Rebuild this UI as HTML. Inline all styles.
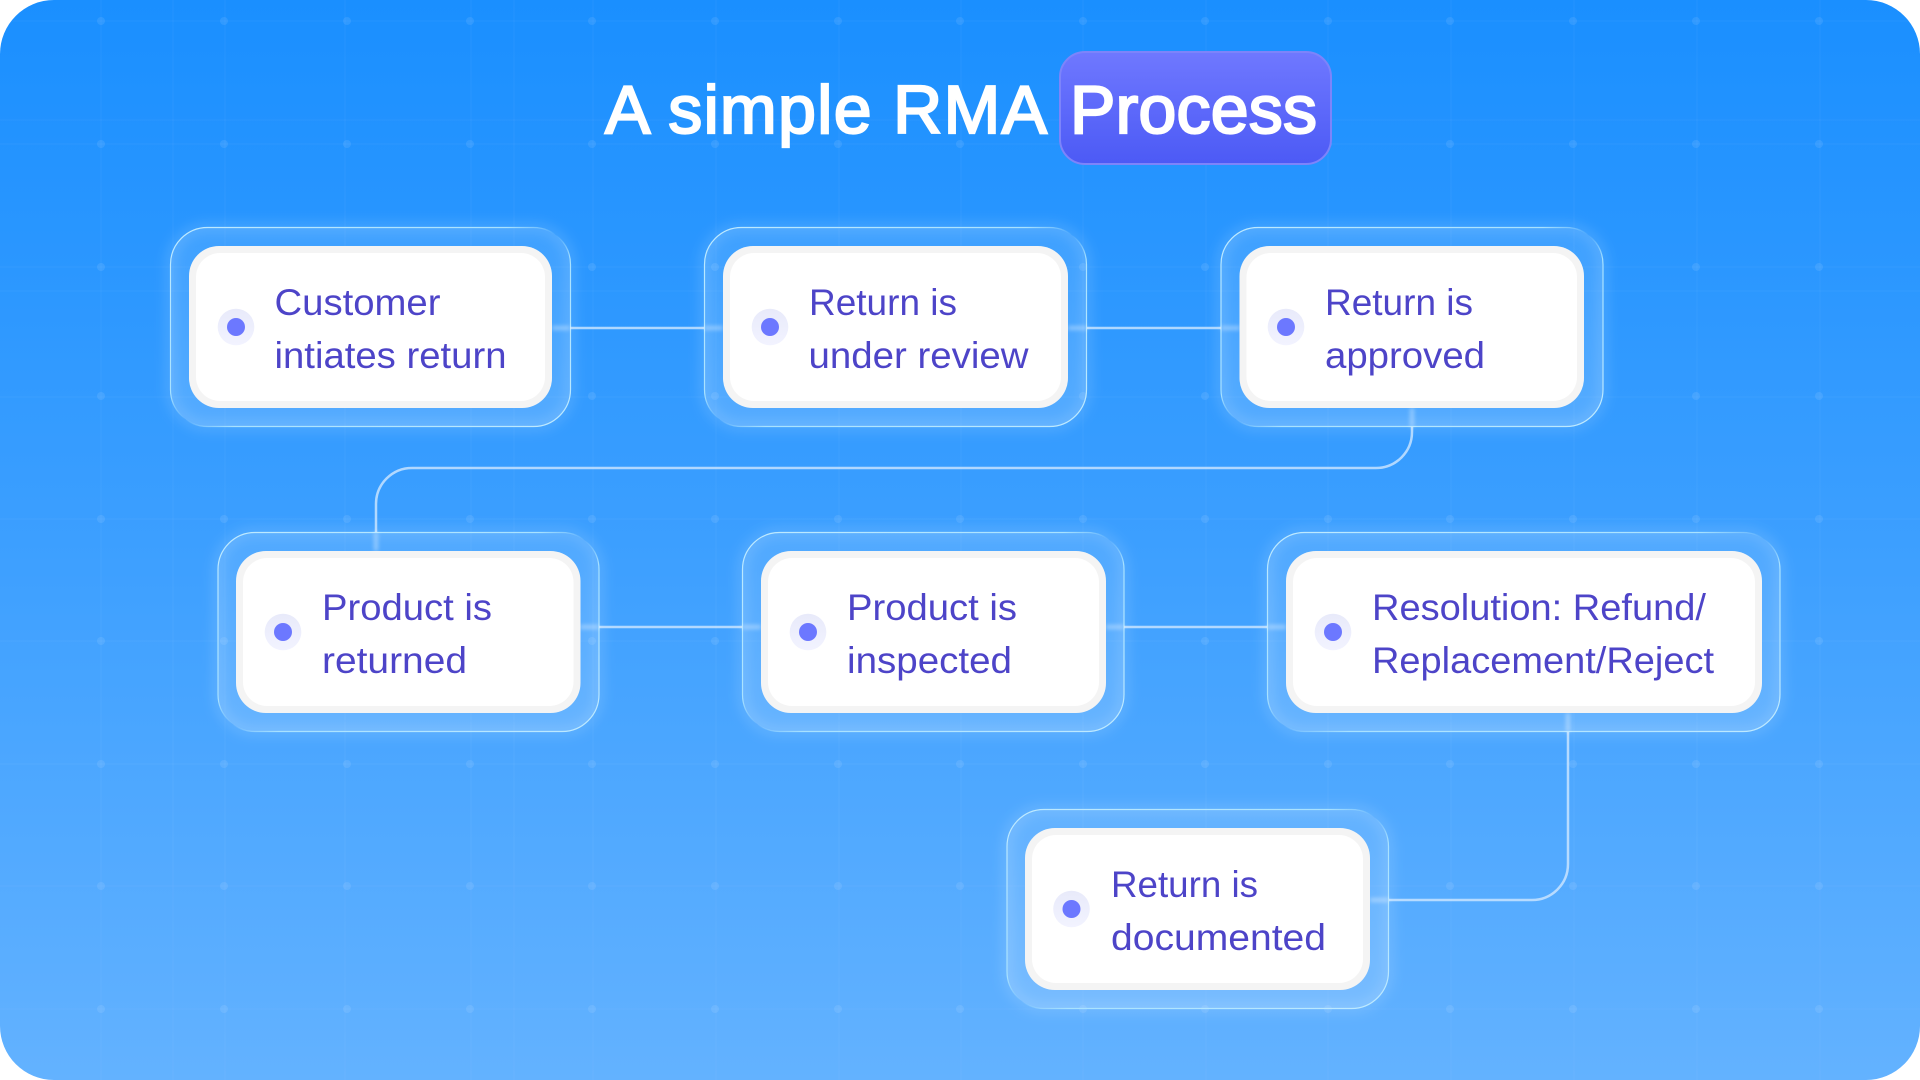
<!DOCTYPE html>
<html><head><meta charset="utf-8"><style>
html,body{margin:0;padding:0;background:#fff;width:1920px;height:1080px;overflow:hidden}
svg{display:block}
.t{font-family:"Liberation Sans",sans-serif;font-size:37px;fill:#4d44c8}
.h{font-family:"Liberation Sans",sans-serif;font-size:68px;fill:#fff;stroke:#fff;stroke-width:2.2px}
.c{fill:none;stroke:#cfe7ff;stroke-opacity:.8;stroke-width:2.5}
</style></head><body>
<svg width="1920" height="1080" viewBox="0 0 1920 1080" xmlns="http://www.w3.org/2000/svg">
<defs>
<linearGradient id="bg" x1="0" y1="0" x2="0" y2="1"><stop offset="0" stop-color="#1a8fff"/><stop offset=".5" stop-color="#3c9fff"/><stop offset="1" stop-color="#63b2ff"/></linearGradient>
<linearGradient id="pill" x1="0" y1="0" x2="0" y2="1"><stop offset="0" stop-color="#6f78ff"/><stop offset="1" stop-color="#4c5af5"/></linearGradient>
<linearGradient id="edge" x1="0" y1="0" x2="1" y2="1"><stop offset="0" stop-color="#bfeaff"/><stop offset=".42" stop-color="#a8e2ff"/><stop offset=".5" stop-color="#a8e2ff" stop-opacity="0"/><stop offset=".58" stop-color="#a8e2ff"/><stop offset="1" stop-color="#bfeaff"/></linearGradient>
<linearGradient id="fill" x1="0" y1="0" x2="0" y2="1"><stop offset="0" stop-color="#fff" stop-opacity=".10"/><stop offset="1" stop-color="#fff" stop-opacity=".16"/></linearGradient>
<linearGradient id="ring" x1="0" y1="0" x2="0" y2="1"><stop offset="0" stop-color="#e8eafa"/><stop offset="1" stop-color="#f2f3ff"/></linearGradient>
<filter id="b" x="-20%" y="-20%" width="140%" height="140%"><feGaussianBlur stdDeviation="6"/></filter>
<filter id="b2" x="-50%" y="-500%" width="200%" height="1100%"><feGaussianBlur stdDeviation="2"/></filter>
<clipPath id="page"><rect width="1920" height="1080" rx="54"/></clipPath>
<g id="ringdot"><circle r="18.3" fill="url(#ring)"/><circle r="9" fill="#6c78ff"/></g>
</defs>
<g clip-path="url(#page)">
<rect width="1920" height="1080" fill="url(#bg)"/>
<g fill="#fff" fill-opacity=".025">
<rect x="0" y="20" width="1920" height="2"/><rect x="0" y="119" width="1920" height="2"/><rect x="0" y="143" width="1920" height="2"/><rect x="0" y="266" width="1920" height="2"/><rect x="0" y="290" width="1920" height="2"/><rect x="0" y="396" width="1920" height="2"/><rect x="0" y="518" width="1920" height="2"/><rect x="0" y="640" width="1920" height="2"/><rect x="0" y="763" width="1920" height="2"/><rect x="0" y="885" width="1920" height="2"/><rect x="0" y="1008" width="1920" height="2"/>
<rect x="100" y="0" width="2" height="1080"/><rect x="172" y="0" width="2" height="1080"/><rect x="224" y="0" width="2" height="1080"/><rect x="344" y="0" width="2" height="1080"/><rect x="470" y="0" width="2" height="1080"/><rect x="513" y="0" width="2" height="1080"/><rect x="592" y="0" width="2" height="1080"/><rect x="715" y="0" width="2" height="1080"/><rect x="838" y="0" width="2" height="1080"/><rect x="960" y="0" width="2" height="1080"/><rect x="1082" y="0" width="2" height="1080"/><rect x="1205" y="0" width="2" height="1080"/><rect x="1327" y="0" width="2" height="1080"/><rect x="1450" y="0" width="2" height="1080"/><rect x="1573" y="0" width="2" height="1080"/><rect x="1696" y="0" width="2" height="1080"/><rect x="1819" y="0" width="2" height="1080"/>
</g>
<g fill="#fff" fill-opacity=".09">
<g id="dotrow"><circle cx="101" cy="21" r="4"/><circle cx="224" cy="21" r="4"/><circle cx="347" cy="21" r="4"/><circle cx="470" cy="21" r="4"/><circle cx="592" cy="21" r="4"/><circle cx="715" cy="21" r="4"/><circle cx="838" cy="21" r="4"/><circle cx="960" cy="21" r="4"/><circle cx="1083" cy="21" r="4"/><circle cx="1205" cy="21" r="4"/><circle cx="1328" cy="21" r="4"/><circle cx="1450" cy="21" r="4"/><circle cx="1573" cy="21" r="4"/><circle cx="1696" cy="21" r="4"/><circle cx="1819" cy="21" r="4"/></g>
<use href="#dotrow" y="123"/><use href="#dotrow" y="246"/><use href="#dotrow" y="375"/><use href="#dotrow" y="498"/><use href="#dotrow" y="620"/><use href="#dotrow" y="743"/><use href="#dotrow" y="865"/><use href="#dotrow" y="988"/>
</g>

<!-- title -->
<rect x="1060" y="52" width="271" height="112" rx="25" fill="url(#pill)" stroke="#7d84fa" stroke-width="2"/>
<text class="h" x="605" y="133" textLength="442" lengthAdjust="spacing">A simple RMA</text>
<text class="h" x="1070" y="133" textLength="247" lengthAdjust="spacing">Process</text>

<!-- card glows and panels -->
<g filter="url(#b)" fill="none" stroke="#fff" stroke-opacity=".17" stroke-width="8">
<rect x="170.5" y="227.5" width="400" height="199" rx="37"/><rect x="704.5" y="227.5" width="382" height="199" rx="37"/><rect x="1221" y="227.5" width="382" height="199" rx="37"/>
<rect x="218" y="532.5" width="381" height="199" rx="37"/><rect x="742.5" y="532.5" width="381.5" height="199" rx="37"/><rect x="1267.5" y="532.5" width="512.5" height="199" rx="37"/>
<rect x="1007" y="809.5" width="381.5" height="199" rx="37"/>
</g>
<g fill="url(#fill)" stroke="url(#edge)" stroke-width="1.2">
<rect x="170.5" y="227.5" width="400" height="199" rx="37"/><rect x="704.5" y="227.5" width="382" height="199" rx="37"/><rect x="1221" y="227.5" width="382" height="199" rx="37"/>
<rect x="218" y="532.5" width="381" height="199" rx="37"/><rect x="742.5" y="532.5" width="381.5" height="199" rx="37"/><rect x="1267.5" y="532.5" width="512.5" height="199" rx="37"/>
<rect x="1007" y="809.5" width="381.5" height="199" rx="37"/>
</g>

<!-- connectors -->
<path class="c" d="M570 328H704M1087 328H1221M599 627H742M1124 627H1267"/>
<path class="c" d="M1412 427V432A36 36 0 0 1 1376 468H412A36 36 0 0 0 376 504V532"/>
<path class="c" d="M1568 732V864A36 36 0 0 1 1532 900H1389"/>
<g filter="url(#b2)" stroke="#fff" stroke-opacity=".5" stroke-width="3" fill="none">
<path d="M552 328H570M704 328H723M1068 328H1087M1221 328H1240"/>
<path d="M580 627H599M742 627H761M1106 627H1124M1267 627H1286"/>
<path d="M1412 408V427M376 532V551M1568 713V732M1370 900H1389"/>
</g>

<!-- white cards -->
<g fill="#f4f4f4">
<rect x="189" y="246" width="363" height="162" rx="30"/><rect x="723" y="246" width="345" height="162" rx="30"/><rect x="1239.5" y="246" width="344.5" height="162" rx="30"/>
<rect x="236" y="551" width="344.5" height="162" rx="30"/><rect x="761" y="551" width="345" height="162" rx="30"/><rect x="1286" y="551" width="476" height="162" rx="30"/>
<rect x="1025" y="828" width="345" height="162" rx="30"/>
</g>
<g fill="#fff">
<rect x="196" y="253" width="349" height="148" rx="24"/><rect x="730" y="253" width="331" height="148" rx="24"/><rect x="1246.5" y="253" width="330.5" height="148" rx="24"/>
<rect x="243" y="558" width="330.5" height="148" rx="24"/><rect x="768" y="558" width="331" height="148" rx="24"/><rect x="1293" y="558" width="462" height="148" rx="24"/>
<rect x="1032" y="835" width="331" height="148" rx="24"/>
</g>

<use href="#ringdot" x="236" y="327"/><use href="#ringdot" x="770" y="327"/><use href="#ringdot" x="1286" y="327"/>
<use href="#ringdot" x="283" y="632"/><use href="#ringdot" x="808" y="632"/><use href="#ringdot" x="1333" y="632"/>
<use href="#ringdot" x="1071.5" y="909"/>

<!-- labels -->
<text class="t" x="274.5" y="315" textLength="166" lengthAdjust="spacingAndGlyphs">Customer</text>
<text class="t" x="274.5" y="368" textLength="232" lengthAdjust="spacingAndGlyphs">intiates return</text>
<text class="t" x="809" y="315" textLength="148" lengthAdjust="spacingAndGlyphs">Return is</text>
<text class="t" x="808.5" y="368" textLength="220" lengthAdjust="spacingAndGlyphs">under review</text>
<text class="t" x="1325" y="315" textLength="148" lengthAdjust="spacingAndGlyphs">Return is</text>
<text class="t" x="1325" y="368" textLength="160" lengthAdjust="spacingAndGlyphs">approved</text>
<text class="t" x="322" y="620" textLength="170" lengthAdjust="spacingAndGlyphs">Product is</text>
<text class="t" x="322" y="673" textLength="145" lengthAdjust="spacingAndGlyphs">returned</text>
<text class="t" x="847" y="620" textLength="170" lengthAdjust="spacingAndGlyphs">Product is</text>
<text class="t" x="847" y="673" textLength="165" lengthAdjust="spacingAndGlyphs">inspected</text>
<text class="t" x="1372" y="620" textLength="334" lengthAdjust="spacingAndGlyphs">Resolution: Refund/</text>
<text class="t" x="1372" y="673" textLength="342" lengthAdjust="spacingAndGlyphs">Replacement/Reject</text>
<text class="t" x="1111" y="897" textLength="147" lengthAdjust="spacingAndGlyphs">Return is</text>
<text class="t" x="1111" y="950" textLength="215" lengthAdjust="spacingAndGlyphs">documented</text>
</g>
</svg>
</body></html>
